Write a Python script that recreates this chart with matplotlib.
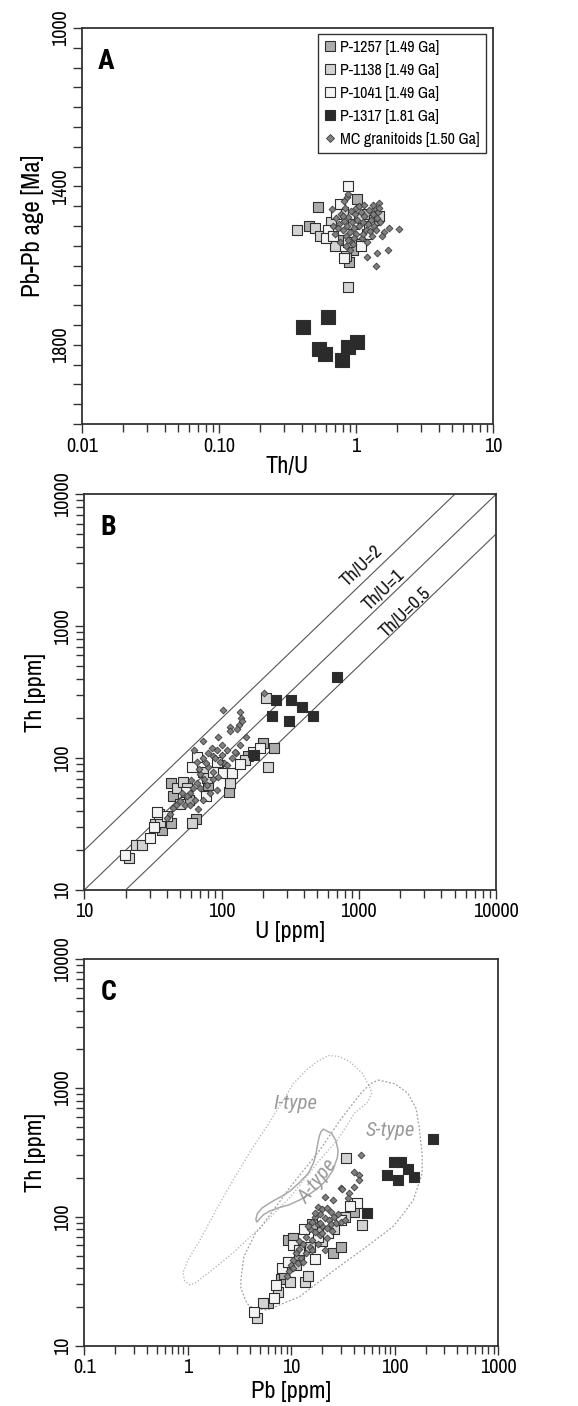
import matplotlib
matplotlib.use('Agg')
import matplotlib.pyplot as plt
from matplotlib.lines import Line2D
from matplotlib.patches import Polygon
from matplotlib.ticker import FixedLocator, FixedFormatter, NullFormatter, LogLocator, MultipleLocator

plt.rcParams['font.family'] = ['Archivo Narrow', 'DejaVu Sans']
BOLD_FONT = ['Roboto Condensed', 'DejaVu Sans']
ITALIC_FONT = ['Roboto Condensed', 'DejaVu Sans']

# ---- sample names / colours ----
labels = ['P-1257 [1.49 Ga]', 'P-1138 [1.49 Ga]', 'P-1041 [1.49 Ga]',
          'P-1317 [1.81 Ga]', 'MC granitoids [1.50 Ga]']

# ---- panel A: Th/U vs Pb-Pb age ----
a_p1257 = [(0.53, 1451), (1.01, 1433), (0.45, 1500), (0.89, 1590), (1.09, 1545),
           (0.76, 1535), (1.18, 1470), (0.62, 1515), (1.36, 1485), (0.95, 1560)]
a_p1138 = [(0.37, 1510), (0.88, 1655), (0.50, 1505), (0.55, 1525), (0.80, 1465),
           (0.85, 1575), (1.25, 1500), (0.70, 1550), (1.48, 1475), (1.05, 1480), (0.66, 1490)]
a_p1041 = [(0.87, 1399), (0.62, 1510), (0.60, 1530), (0.82, 1582), (1.09, 1550),
           (0.76, 1445), (0.95, 1495), (0.68, 1525), (1.20, 1520), (0.88, 1540), (0.72, 1470)]
a_p1317 = [(0.41, 1754), (0.62, 1729), (0.54, 1811), (0.59, 1823), (0.79, 1838),
           (0.87, 1806), (1.01, 1792)]
a_mc = [(2.06, 1508), (1.70, 1561), (1.42, 1569), (1.20, 1577), (1.40, 1601), (1.46, 1441),
        (0.86, 1426), (0.67, 1458), (1.73, 1506), (1.60, 1516), (1.55, 1525), (0.88, 1418),
        (0.82, 1438), (0.72, 1480), (0.75, 1495), (0.78, 1470), (0.80, 1510), (0.82, 1488),
        (0.84, 1525), (0.86, 1500), (0.88, 1478), (0.90, 1515), (0.92, 1540), (0.94, 1490),
        (0.96, 1505), (0.98, 1470), (1.00, 1520), (1.02, 1485), (1.05, 1500), (1.08, 1465),
        (1.10, 1530), (1.12, 1490), (1.15, 1475), (1.18, 1510), (1.22, 1495), (1.25, 1460),
        (1.28, 1485), (1.32, 1470), (1.35, 1500), (1.38, 1455), (1.42, 1480), (1.45, 1465),
        (1.50, 1490), (0.70, 1520), (0.76, 1540), (0.85, 1550), (0.90, 1560), (0.95, 1545),
        (1.00, 1455), (1.05, 1450), (0.92, 1462), (0.80, 1475), (0.87, 1535), (1.12, 1520),
        (1.20, 1540), (1.30, 1525), (1.40, 1510), (0.68, 1500), (0.74, 1505), (0.83, 1455),
        (0.97, 1530), (1.15, 1448), (1.33, 1448), (1.48, 1455), (1.26, 1512)]

# ---- panel B: U vs Th ----
b_p1257 = [(37, 28.5), (42.6, 32.4), (42.6, 64.4), (44, 52), (65, 34.5), (113, 55),
           (157, 103), (200, 130), (241, 120), (80, 62), (95, 88), (58, 48)]
b_p1138 = [(21.3, 17.4), (24, 21.9), (26.2, 21.9), (32.6, 31.5), (47.5, 59), (52, 66),
           (49.8, 45), (60.6, 32), (73, 79), (115, 65), (148, 97), (219, 86), (210, 288),
           (55.7, 59), (35.8, 33), (78, 71), (115, 77)]
b_p1041 = [(19.8, 18.4), (30.1, 24.7), (32.2, 30), (35.3, 37.5), (39.8, 36.5), (60.6, 86),
           (77, 52), (66, 102), (100, 77), (120, 77), (136, 91), (171, 112), (191, 120),
           (87, 78), (92, 93), (33.6, 39), (55, 55)]
b_p1317 = [(250, 276), (321, 276), (385, 245), (232, 210), (309, 190), (462, 207),
           (692, 414), (172, 106)]
b_mc = [(102, 232), (204, 310), (136, 222), (138, 200), (133, 178), (140, 190), (115, 173),
        (115, 160), (129, 167), (73.7, 135), (94.8, 144), (151, 145), (136, 126), (128, 109),
        (63.4, 115), (66, 94), (73.7, 100), (80, 109), (87, 104), (92, 115), (100, 106),
        (109, 115), (105, 92), (97.5, 94), (87, 79), (80, 86), (70, 76), (75, 70), (87, 70),
        (95, 72), (66, 64.4), (62, 59), (58.8, 54), (56, 52), (51.5, 54), (49.8, 47),
        (46.5, 44), (44, 41.6), (42, 38), (39.8, 34.9), (54, 44), (58.8, 44), (70, 59),
        (78, 62), (83, 54), (92, 57), (73.7, 48.5), (64, 48.5), (67.5, 41), (120, 100),
        (110, 88), (125, 112), (85, 120), (100, 125), (68, 82), (60, 68), (77, 92), (90, 100)]
b_ratios = [2, 1, 0.5]
b_ratio_labels = [('Th/U=2', 1050, 2900), ('Th/U=1', 1500, 1880), ('Th/U=0.5', 2175, 1290)]

# ---- panel C: Pb vs Th ----
c_p1257 = [(6, 21.3), (9.2, 66), (25.4, 52), (8, 33), (10.5, 68), (12, 50), (30, 58),
           (40, 110), (19, 76), (16, 88), (8.5, 36)]
c_p1138 = [(4.7, 16.3), (5.3, 21.3), (9.7, 31.5), (13.6, 31.5), (14.6, 35), (48, 86),
           (34, 285), (7.5, 26), (11, 42), (20, 65), (26, 80), (33, 100), (15, 58)]
c_p1041 = [(4.38, 18.4), (6.8, 23.3), (7.1, 29.6), (8.1, 39.9), (13.3, 80), (16.8, 47),
           (22.8, 74.6), (43, 128), (37, 122), (10.5, 60), (12, 55), (18, 70), (30, 95), (9.2, 45)]
c_p1317 = [(236, 400), (99, 268), (116, 268), (135, 235), (85, 211), (108, 193),
           (154, 205), (53.5, 108)]
c_mc = [(47, 302), (40, 222), (45.6, 210), (45, 194), (30, 167), (31, 165), (40, 170),
        (36, 152), (25.5, 135), (35, 139), (21, 142), (18, 120), (20, 115), (22, 118),
        (24, 110), (19, 105), (17, 100), (21, 98), (23, 95), (26, 100), (28, 105), (16, 92),
        (18, 88), (20, 85), (22, 82), (15, 80), (17, 76), (19, 72), (14, 70), (16, 66),
        (18, 62), (13, 62), (15, 58), (12, 56), (14, 52), (11, 52), (12.5, 48), (10.5, 46),
        (11.5, 44), (10, 42), (9.5, 38), (9, 35), (10.5, 40), (13, 45), (16, 55), (20, 75),
        (24, 88), (27, 90), (30, 92), (33, 95), (14.5, 85), (17, 108), (19, 90), (12, 65),
        (22, 68), (25, 78), (21, 55)]

# discrimination fields (Pb, Th outlines)
i_type = [(1.05, 29.6), (0.93, 32), (0.9, 37), (1.0, 46), (1.31, 66), (1.9, 115), (2.75, 194),
          (4.0, 320), (5.78, 502), (8.0, 760), (10.5, 1089), (14, 1380), (17.6, 1600),
          (22.8, 1790), (29, 1760), (36.9, 1600), (48.5, 1303), (57, 1030), (59.8, 912),
          (55, 780), (41, 641), (27.9, 395), (18.9, 277), (9.9, 144), (5.1, 84), (2.7, 52),
          (1.6, 37), (1.2, 31)]
s_type = [(69, 1156), (100, 1080), (133, 916), (160, 700), (172, 501), (184, 300),
          (184, 218), (151, 135), (120, 105), (96, 84), (53.4, 58.7), (26.1, 38.7),
          (12, 24), (5.85, 18.9), (4.3, 19.5), (3.72, 21.3), (3.26, 28), (3.26, 32.4),
          (3.48, 49), (4.5, 74.6), (5.14, 84), (9.85, 172), (18.9, 331), (29.7, 565),
          (47, 912), (58, 1080)]
a_type = [(20.5, 480), (24.5, 445), (27.0, 390), (28.3, 330), (27.9, 290), (25.3, 231),
          (22, 195), (18.9, 172), (15, 150), (12, 135), (9.5, 124), (7.6, 118), (6.2, 111),
          (5.4, 104), (4.9, 96), (4.65, 91), (4.55, 96), (4.7, 106), (5.2, 117), (6.67, 133),
          (8.5, 148), (9.85, 160), (12, 185), (14.6, 218), (16.3, 260), (17.1, 293),
          (17.9, 360), (18.6, 420), (19.4, 460)]
field_labels = [('I-type', 10.9, 753, 0), ('S-type', 90, 467, 0), ('A-type', 18.2, 188, 52)]

# ---- styles ----
faces = ['#acacac', '#d3d3d3', '#f4f4f4', '#2b2b2b', '#7f7f7f']
edge_sq = '#2e2e2e'
edge_mc = '#3c3c3c'
axis_col = '#333333'


def xy(pairs):
    return [p[0] for p in pairs], [p[1] for p in pairs]


def draw_points(ax, groups, sq_size, black_size, mc_size):
    for i, pts in enumerate(groups[:4]):
        x, y = xy(pts)
        s = black_size if i == 3 else sq_size
        ax.scatter(x, y, s=s, marker='s', facecolor=faces[i], edgecolor=edge_sq,
                   linewidth=0.8, zorder=3)
    x, y = xy(groups[4])
    ax.scatter(x, y, s=mc_size, marker='D', facecolor=faces[4], edgecolor=edge_mc,
               linewidth=0.6, zorder=4)


def style_axes(ax):
    for sp in ax.spines.values():
        sp.set_color(axis_col)
        sp.set_linewidth(1.3)
    ax.tick_params(which='both', direction='out', color=axis_col, width=1.0,
                   labelsize=14.5, pad=2.5, top=False, right=False)
    ax.tick_params(which='major', length=6.5)
    ax.tick_params(which='minor', length=6.0)
    ax.tick_params(axis='y', labelrotation=90)
    for lab in ax.get_yticklabels():
        lab.set_va('center')


def log_axis(axis, lo, hi):
    decades = []
    v = lo
    while v <= hi * 1.0001:
        decades.append(v)
        v *= 10
    axis.set_major_locator(FixedLocator(decades))
    axis.set_major_formatter(FixedFormatter([('%g' % d) for d in decades]))
    axis.set_minor_locator(LogLocator(base=10, subs=range(2, 10)))
    axis.set_minor_formatter(NullFormatter())


def panel_letter(ax, letter):
    ax.text(0.058, 0.915, letter, transform=ax.transAxes, fontsize=20, fontweight='bold',
            family=BOLD_FONT, ha='center', va='center')


fig = plt.figure(figsize=(5.78, 14.06), dpi=100)

# ================= A =================
ax = fig.add_axes([0.1419, 0.6984, 0.7111, 0.2817])
draw_points(ax, [a_p1257, a_p1138, a_p1041, a_p1317, a_mc], 52, 110, 12)
ax.set_xscale('log')
ax.set_xlim(0.01, 10)
ax.set_ylim(2000, 1000)
ax.xaxis.set_major_locator(FixedLocator([0.01, 0.1, 1, 10]))
ax.xaxis.set_major_formatter(FixedFormatter(['0.01', '0.10', '1', '10']))
ax.xaxis.set_minor_locator(LogLocator(base=10, subs=range(2, 10)))
ax.xaxis.set_minor_formatter(NullFormatter())
ax.yaxis.set_major_locator(FixedLocator([1000, 1400, 1800]))
ax.yaxis.set_minor_locator(MultipleLocator(50))
style_axes(ax)
ax.tick_params(axis='y', which='minor', length=6.5)
ax.set_xlabel('Th/U', fontsize=17.5, labelpad=0)
ax.set_ylabel('Pb-Pb age [Ma]', fontsize=18, labelpad=5)
panel_letter(ax, 'A')

handles = []
for i in range(4):
    handles.append(Line2D([], [], linestyle='none', marker='s', markersize=6.5,
                          markerfacecolor=faces[i], markeredgecolor=edge_sq,
                          markeredgewidth=0.8))
handles.append(Line2D([], [], linestyle='none', marker='D', markersize=3.6,
                      markerfacecolor=faces[4], markeredgecolor=edge_mc,
                      markeredgewidth=0.6))
leg = ax.legend(handles, labels, loc='upper right', bbox_to_anchor=(0.983, 0.986),
                borderaxespad=0, fontsize=11.5, frameon=True, fancybox=False,
                framealpha=1, edgecolor='#333333', handlelength=0.7,
                handletextpad=0.3, labelspacing=0.5, borderpad=0.4)
leg.get_frame().set_linewidth(1.0)

# ================= B =================
ax = fig.add_axes([0.1458, 0.3670, 0.7123, 0.2814])
ax.set_xscale('log')
ax.set_yscale('log')
ax.set_xlim(10, 10000)
ax.set_ylim(10, 10000)
line_u = [10, 10000]
for r in b_ratios:
    ax.plot(line_u, [r * u for u in line_u], color='#555555', linewidth=0.8, zorder=1)
for txt, u, th in b_ratio_labels:
    ax.text(u, th, txt, rotation=44, fontsize=13.5, ha='center', va='center',
            color='#111111', rotation_mode='anchor')
draw_points(ax, [b_p1257, b_p1138, b_p1041, b_p1317, b_mc], 48, 52, 12)
log_axis(ax.xaxis, 10, 10000)
log_axis(ax.yaxis, 10, 10000)
style_axes(ax)
ax.set_xlabel('U [ppm]', fontsize=17.5, labelpad=0)
ax.set_ylabel('Th [ppm]', fontsize=17.5, labelpad=5)
panel_letter(ax, 'B')

# ================= C =================
ax = fig.add_axes([0.1458, 0.0429, 0.7163, 0.2748])
ax.set_xscale('log')
ax.set_yscale('log')
ax.set_xlim(0.1, 1000)
ax.set_ylim(10, 10000)
ax.add_patch(Polygon(i_type, closed=True, fill=False, edgecolor='#b0b0b0',
                     linewidth=0.9, linestyle=(0, (1, 1.6)), zorder=1))
ax.add_patch(Polygon(s_type, closed=True, fill=False, edgecolor='#a0a0a0',
                     linewidth=0.9, linestyle=(0, (1.5, 1.5)), zorder=1))
ax.add_patch(Polygon(a_type, closed=True, fill=False, edgecolor='#aaaaaa',
                     linewidth=1.1, linestyle='-', zorder=1))
for txt, pb, th, rot in field_labels:
    ax.text(pb, th, txt, rotation=rot, fontsize=15, style='italic', color='#9a9a9a',
            family=ITALIC_FONT, ha='center', va='center', zorder=2)
draw_points(ax, [c_p1257, c_p1138, c_p1041, c_p1317, c_mc], 48, 52, 12)
log_axis(ax.xaxis, 0.1, 1000)
log_axis(ax.yaxis, 10, 10000)
style_axes(ax)
ax.set_xlabel('Pb [ppm]', fontsize=17.5, labelpad=3)
ax.set_ylabel('Th [ppm]', fontsize=17.5, labelpad=5)
panel_letter(ax, 'C')

fig.savefig('out.png', dpi=100)
